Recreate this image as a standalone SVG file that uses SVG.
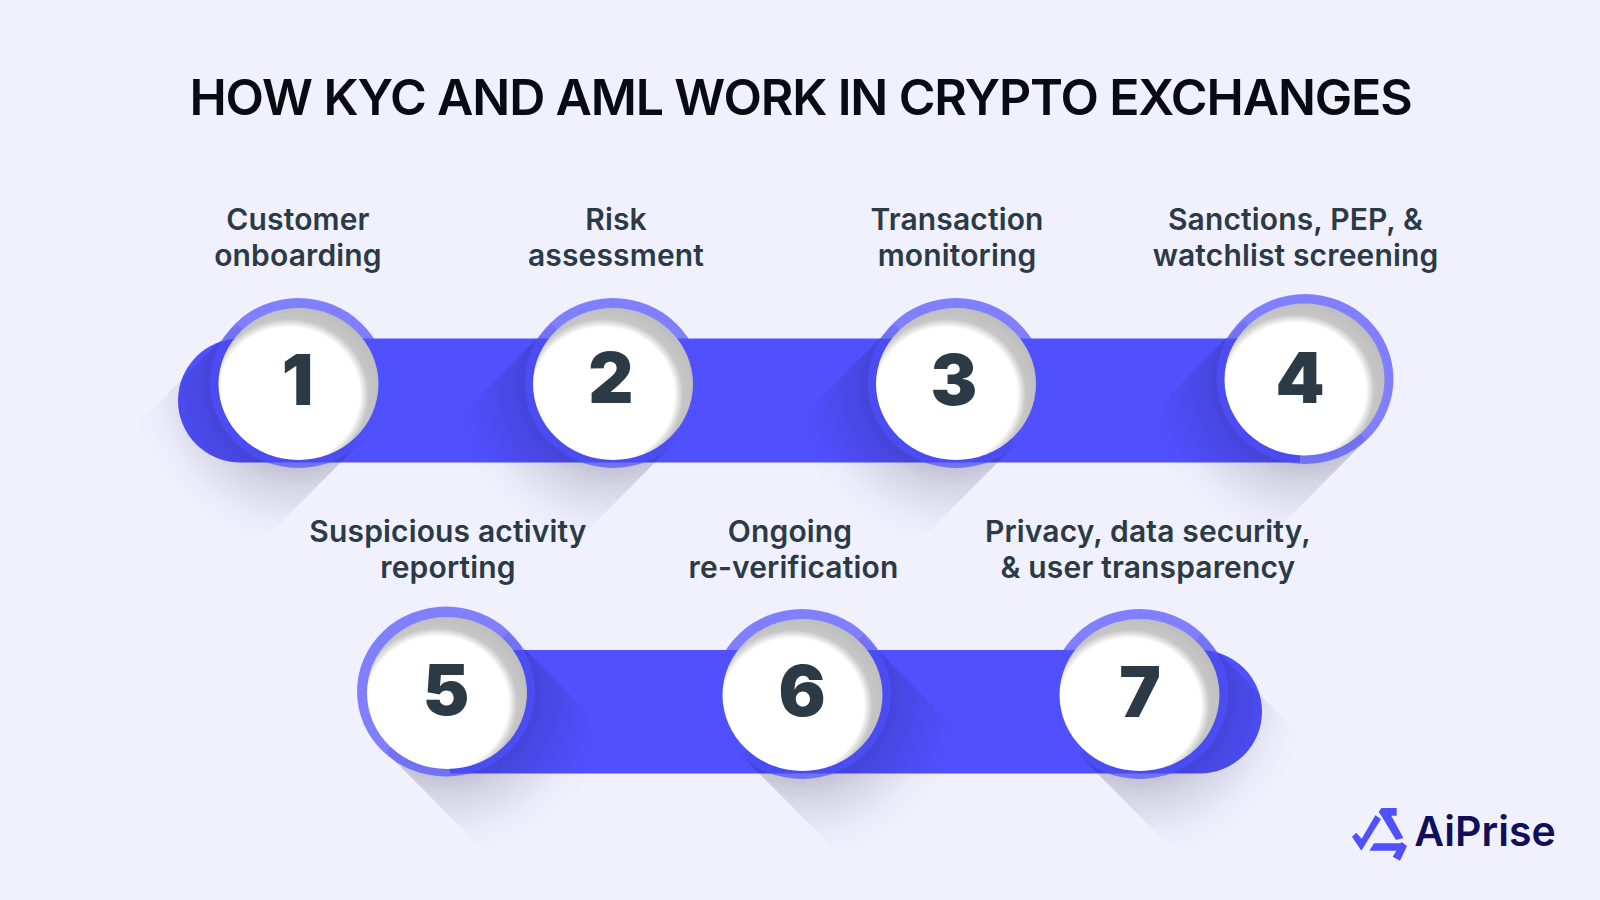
<svg xmlns="http://www.w3.org/2000/svg" width="1600" height="900" viewBox="0 0 1600 900">
<style>
text{font-family:Inter,"Liberation Sans",sans-serif;fill:#2b3a45;text-anchor:middle}
.title{font-size:50px;font-weight:600;fill:#0a0a12;letter-spacing:-1.14px}
.lab{font-size:30px;font-weight:600;letter-spacing:.15px}
.num{font-size:70px;font-weight:900}
.band{fill:#5050ff}
.ring{fill:#5050ff;fill-opacity:.7}
.face{fill:url(#face)}
</style>
<defs>
<radialGradient id="face" cx=".44" cy=".57" r=".6"><stop offset=".74" stop-color="#fff"/><stop offset=".83" stop-color="#c6c6c6"/><stop offset="1" stop-color="#bdbdbd"/></radialGradient>
<radialGradient id="sd" gradientUnits="userSpaceOnUse" cx="0" cy="0" r="165"><stop offset=".42" stop-color="#14143c" stop-opacity=".27"/><stop offset=".62" stop-color="#14143c" stop-opacity=".13"/><stop offset=".85" stop-color="#14143c" stop-opacity=".03"/><stop offset="1" stop-color="#14143c" stop-opacity="0"/></radialGradient>
<path id="shl" d="M61 60L-61 -60L-200 80L-78 200Z" fill="url(#sd)"/>
<path id="shr" d="M-61 60L61 -60L200 80L78 200Z" fill="url(#sd)"/>
</defs>
<rect width="1600" height="900" fill="#f1f1fe"/>
<text class="title" x="800.500" y="115">HOW KYC AND AML WORK IN CRYPTO EXCHANGES</text>
<g id="connectors">
<path class="band" d="M240 338.500H1300V462.500H240A62 62 0 0 1 240 338.500Z"/>
<path class="band" d="M450 650H1200A62 61.700 0 0 1 1200 773.400H450Z"/>
</g>
<use href="#shl" x="298" y="384"/>
<use href="#shl" x="612.500" y="384"/>
<use href="#shl" x="955" y="384"/>
<use href="#shl" x="1305" y="380"/>
<use href="#shr" x="447" y="692"/>
<use href="#shr" x="802" y="695"/>
<use href="#shr" x="1140" y="695"/>
<g id="n1"><ellipse class="ring" cx="298.500" cy="383" rx="88.500" ry="85"/><ellipse class="face" cx="298.500" cy="384" rx="80" ry="76"/><text class="num" x="297.500" y="405">1</text><text class="lab" x="298" y="230">Customer</text><text class="lab" x="298" y="266">onboarding</text></g>
<g id="n2"><ellipse class="ring" cx="613" cy="383" rx="88.500" ry="85"/><ellipse class="face" cx="613" cy="384" rx="80" ry="76"/><text class="num" x="611" y="403">2</text><text class="lab" x="616" y="230">Risk</text><text class="lab" x="616" y="266">assessment</text></g>
<g id="n3"><ellipse class="ring" cx="956" cy="383" rx="88.500" ry="85"/><ellipse class="face" cx="956" cy="384" rx="80" ry="76"/><text class="num" x="954" y="405">3</text><text class="lab" x="957" y="230">Transaction</text><text class="lab" x="957" y="266">monitoring</text></g>
<g id="n4"><ellipse class="ring" cx="1305" cy="379" rx="88.500" ry="85"/><ellipse class="face" cx="1304.500" cy="379.500" rx="80" ry="76"/><text class="num" x="1300" y="403">4</text><text class="lab" x="1295.500" y="230">Sanctions, PEP, &amp;</text><text class="lab" x="1295.500" y="266">watchlist screening</text></g>
<g id="n5"><ellipse class="ring" cx="446" cy="691.500" rx="89" ry="85"/><ellipse class="face" cx="447" cy="693" rx="80" ry="76"/><text class="num" x="446" y="715">5</text><text class="lab" x="448" y="542">Suspicious activity</text><text class="lab" x="448" y="578">reporting</text></g>
<g id="n6"><ellipse class="ring" cx="802" cy="694" rx="89" ry="85"/><ellipse class="face" cx="802.500" cy="695" rx="80" ry="76"/><text class="num" x="802" y="716">6</text><text class="lab" x="790" y="542">Ongoing</text><text class="lab" x="793.500" y="578">re-verification</text></g>
<g id="n7"><ellipse class="ring" cx="1139.500" cy="694" rx="89" ry="85"/><ellipse class="face" cx="1139.500" cy="695" rx="80" ry="76"/><text class="num" x="1140" y="717">7</text><text class="lab" x="1148" y="542">Privacy, data security,</text><text class="lab" x="1148" y="578">&amp; user transparency</text></g>
<g id="logo">
<g transform="translate(1320 780) scale(.33333)" fill="#5050ff">
<path d="M96 170L109 158L125 176L166 106L183 117L124 212Z"/>
<path d="M176 96L184 84H230V107H214L250 174L228 180L184 107Z"/>
<path d="M148 212L162 190H240L246 187L261 198L240 242L218 230L229 212Z"/>
</g>
<text x="1485" y="846" style="font-size:41px;font-weight:600;fill:#10105a">AiPrise</text>
</g>
</svg>
